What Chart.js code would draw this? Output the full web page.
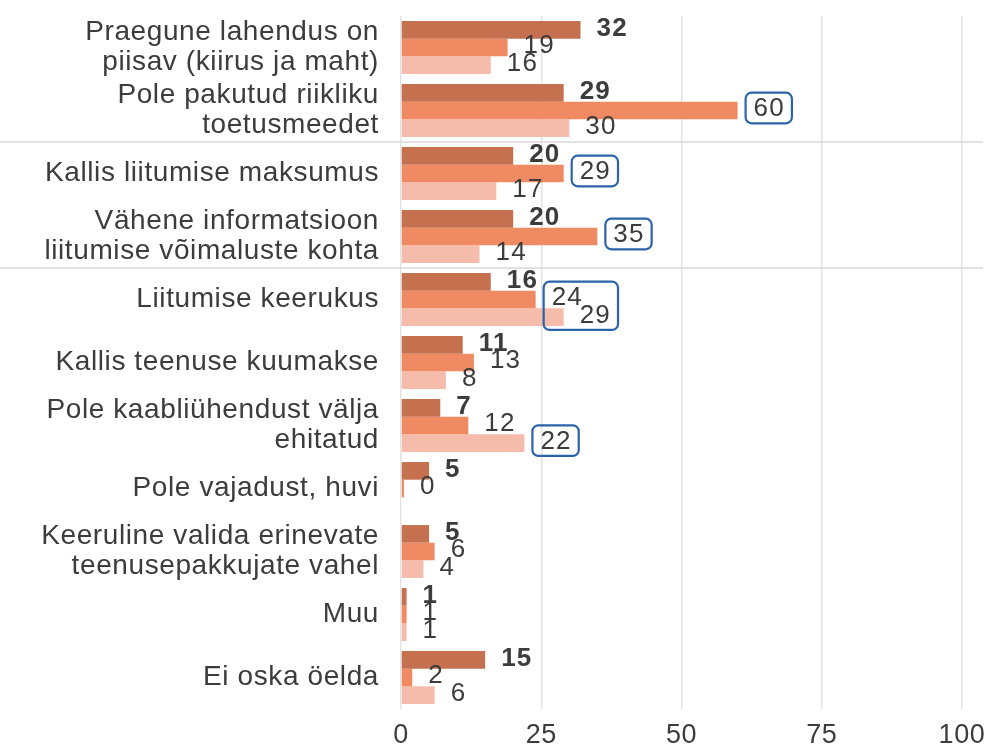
<!DOCTYPE html>
<html lang="et">
<head>
<meta charset="utf-8">
<title>Liitumise takistused</title>
<script src="https://cdn.jsdelivr.net/npm/chart.js@4/dist/chart.umd.min.js"></script>
<style>
  html, body { margin: 0; padding: 0; background: #ffffff; }
  #wrap { width: 988px; height: 746px; }
</style>
</head>
<body>
<div id="wrap"><canvas id="chart-main" width="988" height="746"></canvas></div>
<script>
/* ─── Andmed ─── */
const categories = [
    ['Praegune lahendus on', 'piisav (kiirus ja maht)'],
    ['Pole pakutud riikliku', 'toetusmeedet'],
    'Kallis liitumise maksumus',
    ['Vähene informatsioon', 'liitumise võimaluste kohta'],
    'Liitumise keerukus',
    'Kallis teenuse kuumakse',
    ['Pole kaabliühendust välja', 'ehitatud'],
    'Pole vajadust, huvi',
    ['Keeruline valida erinevate', 'teenusepakkujate vahel'],
    'Muu',
    'Ei oska öelda'
];
const seriesA = [32, 29, 20, 20, 16, 11, 7, 5, 5, 1, 15];
const seriesB = [19, 60, 29, 35, 24, 13, 12, 0, 6, 1, 2];
const seriesC = [16, 30, 17, 14, 29, 8, 22, null, 4, 1, 6];
const xTicks = [0, 25, 50, 75, 100];

// which labels get the blue frame: [dataset, category] pairs per frame
const framedLabels = [
    [[1, 1]],
    [[1, 2]],
    [[1, 3]],
    [[1, 4], [2, 4]],
    [[2, 6]]
];
// separators after these category indexes
const separatorsAfter = [1, 3];

(function() {
    'use strict';

    const FONT = '"Liberation Sans", Arial, Helvetica, sans-serif';
    const TEXT = '#3c3c3c';
    const NUM_SIZE = 26;

    // ─── Veidi hõredam tekst nagu originaalis ───
    const spacingPlugin = {
        id: 'spacing',
        beforeUpdate(chart) { chart.ctx.letterSpacing = '0.6px'; },
        beforeDraw(chart) { chart.ctx.letterSpacing = '0.6px'; }
    };

    // ─── Eraldusjooned gruppide vahel ───
    const separatorPlugin = {
        id: 'separators',
        beforeDatasetsDraw(chart) {
            const y = chart.scales.y;
            const ctx = chart.ctx;
            ctx.save();
            ctx.strokeStyle = '#d9d9d9';
            ctx.lineWidth = 1.5;
            separatorsAfter.forEach(idx => {
                const py = (y.getPixelForValue(idx) + y.getPixelForValue(idx + 1)) / 2;
                ctx.beginPath();
                ctx.moveTo(0, py);
                ctx.lineTo(983, py);
                ctx.stroke();
            });
            ctx.restore();
        }
    };

    // ─── Väärtused tulpade järel + raamid ───
    function labelBox(chart, di, i) {
        const ctx = chart.ctx;
        const bar = chart.getDatasetMeta(di).data[i];
        const v = chart.data.datasets[di].data[i];
        ctx.font = (di === 0 ? 'bold ' : '') + NUM_SIZE + 'px ' + FONT;
        const w = ctx.measureText(String(v)).width;
        return { x: bar.x + 16, cy: bar.y - 3.5, w: w, text: String(v) };
    }

    const valueLabelPlugin = {
        id: 'valueLabels',
        afterDatasetsDraw(chart) {
            const ctx = chart.ctx;
            ctx.save();
            ctx.letterSpacing = '1.2px';
            ctx.fillStyle = TEXT;
            ctx.textAlign = 'left';
            ctx.textBaseline = 'alphabetic';
            chart.data.datasets.forEach((ds, di) => {
                ds.data.forEach((v, i) => {
                    if (v === null) return;
                    const b = labelBox(chart, di, i);
                    ctx.fillText(b.text, b.x, b.cy + NUM_SIZE * 0.358);
                });
            });

            ctx.strokeStyle = '#2b63aa';
            ctx.lineWidth = 2.2;
            framedLabels.forEach(group => {
                let l = Infinity, r = -Infinity, t = Infinity, btm = -Infinity;
                group.forEach(([di, i]) => {
                    const b = labelBox(chart, di, i);
                    const h = NUM_SIZE * 0.358;
                    l = Math.min(l, b.x - 8);
                    r = Math.max(r, b.x + b.w + 7);
                    t = Math.min(t, b.cy - h - 5);
                    btm = Math.max(btm, b.cy + h + 7);
                });
                ctx.beginPath();
                ctx.roundRect(l, t, r - l, btm - t, 6);
                ctx.stroke();
            });
            ctx.restore();
        }
    };

    function initChart() {
        const canvas = document.getElementById('chart-main');
        new Chart(canvas, {
            type: 'bar',
            data: {
                labels: categories,
                datasets: [
                    { label: 'A', data: seriesA, backgroundColor: '#c5704f' },
                    { label: 'B', data: seriesB, backgroundColor: '#f08a62', minBarLength: 3 },
                    { label: 'C', data: seriesC, backgroundColor: '#f5bcab' }
                ]
            },
            options: {
                indexAxis: 'y',
                responsive: false,
                animation: false,
                devicePixelRatio: 1,
                categoryPercentage: 0.84,
                barPercentage: 1.0,
                layout: { padding: { top: 16, right: 26, left: 0, bottom: 0 } },
                plugins: {
                    legend: { display: false },
                    tooltip: { enabled: false }
                },
                scales: {
                    x: {
                        min: 0,
                        max: 100,
                        afterBuildTicks(scale) {
                            scale.ticks = xTicks.map(v => ({ value: v }));
                        },
                        afterFit(scale) {
                            scale.height = 37;
                            scale.paddingLeft = 0;
                            scale.paddingRight = 0;
                        },
                        grid: { color: '#e3e3e3', lineWidth: 1.5, drawTicks: false },
                        border: { display: false },
                        ticks: {
                            color: TEXT,
                            padding: 10,
                            font: { family: FONT, size: 27 }
                        }
                    },
                    y: {
                        afterFit(scale) {
                            scale.width = 401;
                            scale.paddingTop = 0;
                            scale.paddingBottom = 0;
                        },
                        grid: { display: false, drawTicks: false },
                        border: { display: false },
                        ticks: {
                            color: TEXT,
                            padding: 22,
                            autoSkip: false,
                            font: { family: FONT, size: 28, lineHeight: '30px' }
                        }
                    }
                }
            },
            plugins: [spacingPlugin, separatorPlugin, valueLabelPlugin]
        });
    }

    initChart();
})();
</script>
</body>
</html>
